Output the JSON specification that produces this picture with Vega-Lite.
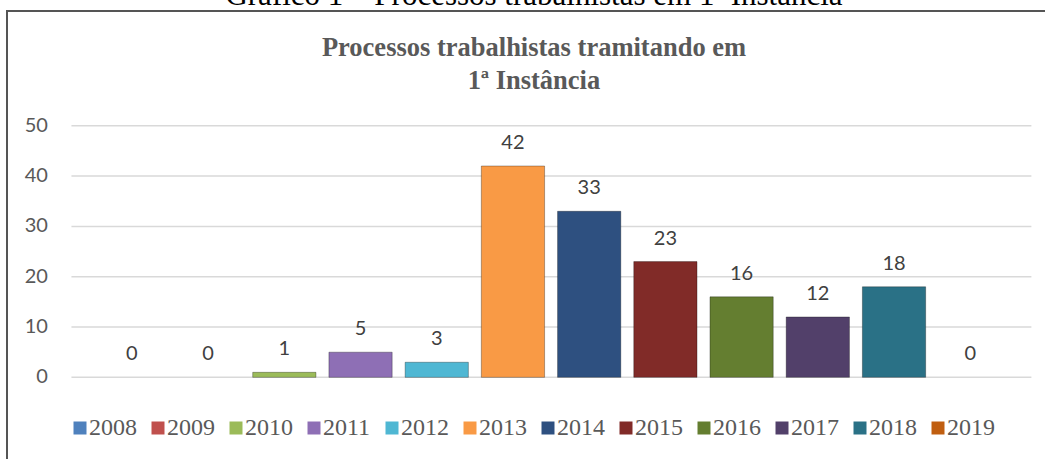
{
  "$schema": "https://vega.github.io/schema/vega-lite/v6.json",
  "width": 1054,
  "height": 460,
  "autosize": {"type": "none"},
  "padding": {"left": 7, "top": 11, "right": -16, "bottom": -12},
  "background": "white",
  "config": {"view": {"stroke": "#555555", "strokeWidth": 2}, "font": "Lato"},
  "title": {
    "text": "Gráfico 1 – Processos trabalhistas em 1ª Instância",
    "subtitle": ["Processos trabalhistas tramitando em", "1ª Instância"],
    "font": "Liberation Serif", "fontSize": 31, "fontWeight": "normal", "color": "#000000",
    "subtitleFont": "Liberation Serif", "subtitleFontSize": 26.5, "subtitleFontWeight": "bold",
    "subtitleColor": "#595959", "subtitleLineHeight": 33, "subtitlePadding": 19.5,
    "baseline": "alphabetic", "offset": -108, "anchor": "middle", "frame": "group"
  },
  "datasets": {
    "anos": [
      {"ano": "2008", "processos": 0},
      {"ano": "2009", "processos": 0},
      {"ano": "2010", "processos": 1},
      {"ano": "2011", "processos": 5},
      {"ano": "2012", "processos": 3},
      {"ano": "2013", "processos": 42},
      {"ano": "2014", "processos": 33},
      {"ano": "2015", "processos": 23},
      {"ano": "2016", "processos": 16},
      {"ano": "2017", "processos": 12},
      {"ano": "2018", "processos": 18},
      {"ano": "2019", "processos": 0}
    ],
    "grade": [{"v": 0}, {"v": 10}, {"v": 20}, {"v": 30}, {"v": 40}, {"v": 50}]
  },
  "layer": [
    {
      "data": {"name": "grade"},
      "mark": {"type": "rule", "color": "#d9d9d9", "strokeWidth": 1.5},
      "encoding": {
        "y": {"field": "v", "type": "quantitative", "scale": {"domain": [-18.61, 72.8], "nice": false, "zero": false}, "axis": null},
        "x": {"datum": "2008", "type": "nominal", "bandPosition": -0.456, "axis": null},
        "x2": {"datum": "2019", "bandPosition": 1.467}
      }
    },
    {
      "data": {"name": "grade"},
      "mark": {"type": "text", "align": "right", "baseline": "middle", "font": "Lato", "fontSize": 20, "fill": "#595959"},
      "encoding": {
        "y": {"field": "v", "type": "quantitative", "scale": {"domain": [-18.61, 72.8], "nice": false, "zero": false}, "axis": null},
        "x": {"datum": "2008", "type": "nominal", "bandPosition": -0.829, "axis": null},
        "text": {"field": "v", "type": "quantitative"}
      }
    },
    {
      "data": {"name": "anos"},
      "mark": {"type": "bar", "stroke": "#000000", "strokeWidth": 1},
      "encoding": {
        "x": {
          "field": "ano", "type": "nominal", "sort": null,
          "scale": {
            "type": "band", "paddingInner": 0.17, "paddingOuter": 1.0284, "align": 0.612,
            "domain": ["2008", "2009", "2010", "2011", "2012", "2013", "2014", "2015", "2016", "2017", "2018", "2019"]
          },
          "axis": null
        },
        "y": {"field": "processos", "type": "quantitative", "scale": {"domain": [-18.61, 72.8], "nice": false, "zero": false}, "axis": null},
        "y2": {"datum": 0},
        "strokeOpacity": {"condition": {"test": "datum.processos > 0", "value": 0.3}, "value": 0},
        "color": {
          "field": "ano", "type": "nominal", "sort": null,
          "scale": {
            "domain": ["2008", "2009", "2010", "2011", "2012", "2013", "2014", "2015", "2016", "2017", "2018", "2019"],
            "range": ["#4F81BD", "#C0504D", "#9BBB59", "#8E6FB5", "#4FB7D3", "#F99A45", "#2E5080", "#812B28", "#647E30", "#52406A", "#2A7186", "#C05E10"]
          },
          "legend": {
            "orient": "none", "legendX": 61, "legendY": 405, "direction": "horizontal", "title": null,
            "symbolType": "square", "symbolSize": 169, "symbolStrokeWidth": 0,
            "labelFont": "Liberation Serif", "labelFontSize": 24, "labelColor": "#595959",
            "labelOffset": -3, "columnPadding": 9, "padding": 0
          }
        }
      }
    },
    {
      "data": {"name": "anos"},
      "mark": {"type": "text", "dy": -17, "baseline": "alphabetic", "align": "center", "font": "Lato", "fontSize": 20, "fill": "#404040"},
      "encoding": {
        "x": {"field": "ano", "type": "nominal", "sort": null, "axis": null},
        "y": {"field": "processos", "type": "quantitative", "scale": {"domain": [-18.61, 72.8], "nice": false, "zero": false}, "axis": null},
        "text": {"field": "processos", "type": "quantitative"}
      }
    }
  ]
}
